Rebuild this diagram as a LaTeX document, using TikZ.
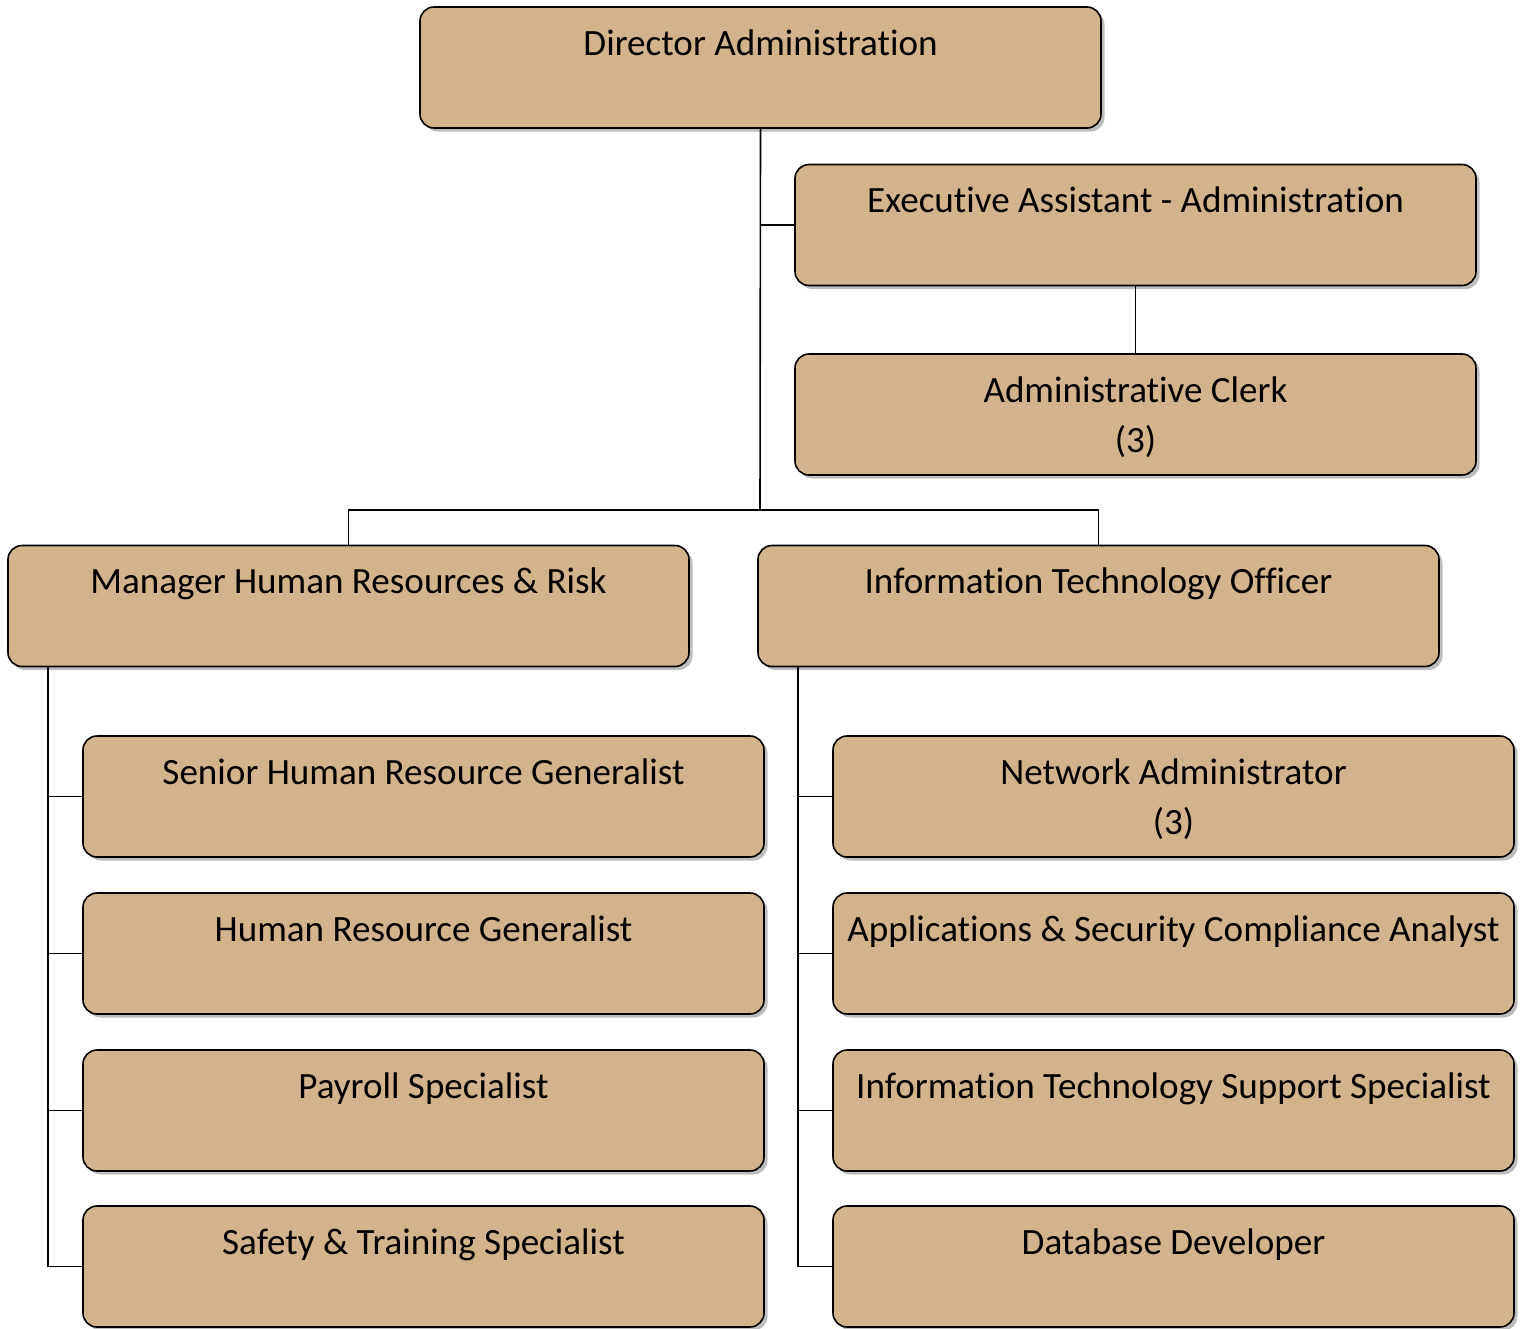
\documentclass[tikz,border=0pt]{standalone}
\usepackage{fontspec}
\setmainfont{Carlito}[Ligatures={NoCommon}]
\usetikzlibrary{shadows,calc}
\definecolor{boxtan}{HTML}{D2B48C}
\definecolor{shadowgray}{HTML}{BDBDBD}
\tikzset{
  orgbox/.style={draw=black, line width=1.6pt, fill=boxtan, rounded corners=14pt,
    minimum width=681pt, minimum height=121pt, inner sep=0pt,
    drop shadow={shadow xshift=3.5pt, shadow yshift=-3.5pt, fill=shadowgray, opacity=1}},
  lbl/.style={anchor=base, inner sep=0pt, font=\fontsize{37.1}{50}\selectfont},
  link/.style={draw=black, line width=1.6pt}
}
\begin{document}
\begin{tikzpicture}[x=1pt,y=-1pt]
\useasboundingbox (0,0) rectangle (1526,1328);
% connector junctions
\coordinate (j) at (760,510);
\coordinate (hrspine) at (48,667);
\coordinate (itspine) at (798,667);
% boxes
\node[orgbox] (dir)   at (760.5,67.5) {};
\node[orgbox] (exec)  at (1135.5,225) {};
\node[orgbox] (clerk) at (1135.5,414.5) {};
\node[orgbox] (mhr)   at (348.5,606) {};
\node[orgbox] (ito)   at (1098.5,606) {};
\node[orgbox] (shr)   at (423.5,796.5) {};
\node[orgbox] (hrg)   at (423.5,953.5) {};
\node[orgbox] (pay)   at (423.5,1110.5) {};
\node[orgbox] (saf)   at (423.5,1266.5) {};
\node[orgbox] (net)   at (1173.5,796.5) {};
\node[orgbox] (app)   at (1173.5,953.5) {};
\node[orgbox] (its)   at (1173.5,1110.5) {};
\node[orgbox] (db)    at (1173.5,1266.5) {};
% labels
\node[lbl] (tdir)   at ($(dir.north)+(0,49)$) {Director Administration};
\node[lbl] (texec)  at ($(exec.north)+(0,49)$) {Executive Assistant - Administration};
\node[lbl] (tclerk) at ($(clerk.north)+(0,49)$) {Administrative Clerk};
\node[lbl] (tclerk2) at ($(clerk.north)+(0,99)$) {(3)};
\node[lbl] (tmhr)   at ($(mhr.north)+(0,49)$) {Manager Human Resources \& Risk};
\node[lbl] (tito)   at ($(ito.north)+(0,49)$) {Information Technology Officer};
\node[lbl] (tshr)   at ($(shr.north)+(0,49)$) {Senior Human Resource Generalist};
\node[lbl] (thrg)   at ($(hrg.north)+(0,49)$) {Human Resource Generalist};
\node[lbl] (tpay)   at ($(pay.north)+(0,49)$) {Payroll Specialist};
\node[lbl] (tsaf)   at ($(saf.north)+(0,49)$) {Safety \& Training Specialist};
\node[lbl] (tnet)   at ($(net.north)+(0,49)$) {Network Administrator};
\node[lbl] (tnet2)  at ($(net.north)+(0,99)$) {(3)};
\node[lbl] (tapp)   at ($(app.north)+(0,49)$) {Applications \& Security Compliance Analyst};
\node[lbl] (tits)   at ($(its.north)+(0,49)$) {Information Technology Support Specialist};
\node[lbl] (tdb)    at ($(db.north)+(0,49)$) {Database Developer};
% connectors
\draw[link] (dir.south) -- (j);
\draw[link] (exec.west) -- (exec.west -| dir.south);
\draw[link] (exec.south) -- (clerk.north);
\draw[link] (mhr.north) |- (j) -| (ito.north);
\draw[link] (hrspine) |- (shr.west);
\draw[link] (hrspine) |- (hrg.west);
\draw[link] (hrspine) |- (pay.west);
\draw[link] (hrspine) |- (saf.west);
\draw[link] (itspine) |- (net.west);
\draw[link] (itspine) |- (app.west);
\draw[link] (itspine) |- (its.west);
\draw[link] (itspine) |- (db.west);
\end{tikzpicture}
\end{document}
